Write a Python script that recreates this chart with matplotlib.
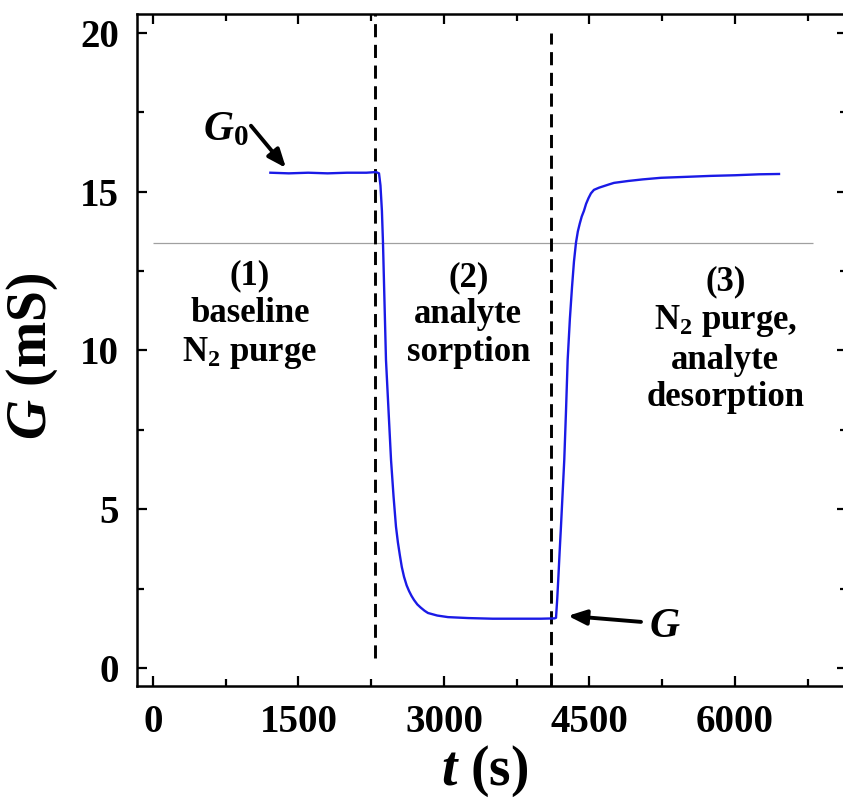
import matplotlib
matplotlib.use("Agg")
import matplotlib.pyplot as plt
from matplotlib.ticker import MultipleLocator

## --- values
t_s = [1210, 1400, 1600, 1800, 2000, 2200, 2300, 2330, 2345, 2360, 2371, 2386,
       2402, 2430, 2454, 2480, 2505, 2525, 2545, 2565, 2588, 2615, 2640, 2665,
       2691, 2725, 2760, 2800, 2835, 2930, 3041, 3250, 3500, 3750, 4000, 4140,
       4155, 4168, 4180, 4193, 4206, 4223, 4240, 4258, 4275, 4298, 4320, 4340,
       4361, 4380, 4400, 4420, 4443, 4465, 4490, 4515, 4546, 4600, 4650, 4700,
       4753, 4900, 5050, 5237, 5500, 5750, 6000, 6250, 6454]
G_mS = [15.60, 15.58, 15.60, 15.58, 15.60, 15.60, 15.62, 15.58, 15.2, 14.4, 13.4, 11.6,
        9.7, 8.0, 6.55, 5.4, 4.45, 3.95, 3.55, 3.18, 2.87, 2.60, 2.42, 2.27,
        2.14, 2.00, 1.90, 1.80, 1.73, 1.65, 1.60, 1.57, 1.55, 1.55, 1.55, 1.56,
        1.58, 2.2, 2.9, 3.7, 4.45, 5.5, 6.55, 8.1, 9.7, 11.0, 12.0, 12.8,
        13.4, 13.75, 14.0, 14.22, 14.4, 14.62, 14.8, 14.95, 15.06, 15.13, 15.18, 15.23,
        15.28, 15.34, 15.39, 15.44, 15.47, 15.50, 15.52, 15.55, 15.56]

switch_times = [2290, 4105]     # gas switched (dashed lines)
ref_level = 13.4                # thin grey line
ref_span = [0, 6800]

phase_labels = ["(1)\nbaseline\nN$_2$ purge",
                "(2)\nanalyte\nsorption",
                "(3)\nN$_2$ purge,\nanalyte\ndesorption"]
phase_t = [1000, 3250, 5900]
phase_G = [11.12, 11.12, 10.33]

plt.rcParams['font.family'] = ['Liberation Serif', 'DejaVu Serif']
plt.rcParams['font.weight'] = 'bold'
plt.rcParams['mathtext.fontset'] = 'custom'
plt.rcParams['mathtext.rm'] = 'Liberation Serif:bold'
plt.rcParams['mathtext.it'] = 'Liberation Serif:bold:italic'
plt.rcParams['mathtext.bf'] = 'Liberation Serif:bold'

fig = plt.figure(figsize=(8.43, 8.01), dpi=100)
ax = fig.add_axes([137/843, 1 - 686/801, 710/843, 672/801])

ax.plot(t_s, G_mS, color='#1a1ae6', lw=1.7, zorder=3)
ax.hlines(ref_level, ref_span[0], ref_span[1], color='#a0a0a0', lw=0.9, zorder=1)
ax.vlines(switch_times[0], 0.3, 20.6, color='k', lw=2.1,
          linestyles=[(0, (4.5, 2.6))], zorder=2)
ax.vlines(switch_times[1], -0.57, 20.0, color='k', lw=2.1,
          linestyles=[(0, (4.5, 2.6))], zorder=2)

for lab, tx, gy in zip(phase_labels, phase_t, phase_G):
    ax.text(tx, gy, lab, ha='center', va='center', fontsize=25,
            fontweight='bold', linespacing=1.18)

# markers for G0 and G
ax.annotate('', xy=(1371, 15.75), xytext=(1010, 17.08),
            arrowprops=dict(arrowstyle='-|>,head_length=1.1,head_width=0.45',
                            color='k', lw=2.8, shrinkA=0, shrinkB=0))
ax.text(990, 16.95, '$G_0$', ha='right', va='center', fontsize=30)
ax.annotate('', xy=(4278, 1.64), xytext=(5031, 1.45),
            arrowprops=dict(arrowstyle='-|>,head_length=1.1,head_width=0.45',
                            color='k', lw=2.8, shrinkA=0, shrinkB=0))
ax.text(5113, 1.3, '$G$', ha='left', va='center', fontsize=30)

ax.set_xlim(-165, 7155)
ax.set_ylim(-0.57, 20.6)
ax.xaxis.set_major_locator(MultipleLocator(1500))
ax.xaxis.set_minor_locator(MultipleLocator(750))
ax.yaxis.set_major_locator(MultipleLocator(5))
ax.yaxis.set_minor_locator(MultipleLocator(2.5))
ax.tick_params(which='both', direction='in', top=True, right=True, width=1.6)
ax.tick_params(which='major', length=7, labelsize=28, pad=13)
ax.tick_params(which='minor', length=5)
for lbl in ax.get_xticklabels() + ax.get_yticklabels():
    lbl.set_fontweight('bold')
for sp in ax.spines.values():
    sp.set_linewidth(1.8)

ax.set_xlabel('$t$ (s)', fontsize=40, fontweight='bold')
ax.set_ylabel('$G$ (mS)', fontsize=40, fontweight='bold')
ax.xaxis.set_label_coords(0.49, -0.085)
ax.yaxis.set_label_coords(-0.108, 0.49)

fig.savefig('out.png', dpi=100)
